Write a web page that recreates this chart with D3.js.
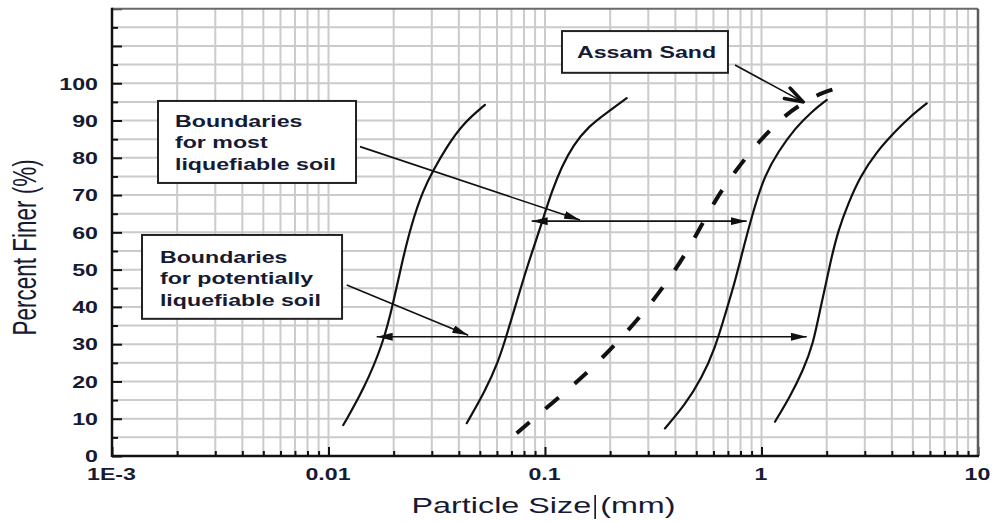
<!DOCTYPE html>
<html>
<head>
<meta charset="utf-8">
<script src="https://cdn.jsdelivr.net/npm/d3@7"></script>
<style>
  html, body { margin: 0; padding: 0; background: #fff; }
  svg { display: block; }
</style>
</head>
<body>
<svg id="chart" width="995" height="522"></svg>
<script>
// ---------- data ----------
const sizeDecades = [0.001, 0.01, 0.1, 1, 10];
const sizeDecadeLabels = ["1E-3", "0.01", "0.1", "1", "10"];
const finerTickValues = [0, 5, 10, 15, 20, 25, 30, 35, 40, 45, 50, 55, 60, 65, 70, 75, 80, 85, 90, 95, 100, 105, 110, 115, 120];
const finerLabelValues = [0, 10, 20, 30, 40, 50, 60, 70, 80, 90, 100];

// boundaries for potentially liquefiable soil (fine side)
const potentialFineSize  = [0.0117, 0.0145, 0.0179, 0.0199, 0.0218, 0.0242, 0.0274, 0.0305, 0.0352, 0.0420, 0.0528];
const potentialFineFiner = [8.3, 17.7, 30.2, 41.0, 51.7, 62.4, 71.4, 76.7, 83.0, 89.3, 94.2];

// boundaries for most liquefiable soil (fine side)
const mostFineSize  = [0.0435, 0.0528, 0.0609, 0.0666, 0.0740, 0.0823, 0.0916, 0.0982, 0.1074, 0.1194, 0.1351, 0.1585, 0.1961, 0.2384];
const mostFineFiner = [8.8, 17.3, 25.3, 32.5, 41.4, 50.4, 58.4, 63.8, 70.9, 77.6, 83.4, 88.4, 92.4, 96.0];

// boundaries for most liquefiable soil (coarse side)
const mostCoarseSize  = [0.358, 0.443, 0.529, 0.610, 0.678, 0.755, 0.839, 0.933, 1.038, 1.196, 1.428, 1.706, 2.001];
const mostCoarseFiner = [7.4, 13.7, 20.8, 28.9, 37.8, 46.8, 57.5, 67.3, 75.4, 81.7, 87.9, 92.4, 95.5];

// boundaries for potentially liquefiable soil (coarse side)
const potentialCoarseSize  = [1.154, 1.354, 1.560, 1.735, 1.863, 2.001, 2.110, 2.263, 2.517, 2.851, 3.405, 4.212, 4.852, 5.794];
const potentialCoarseFiner = [9.2, 15.9, 23.1, 30.2, 39.2, 47.2, 53.5, 60.6, 67.8, 74.9, 81.7, 87.5, 91.0, 94.6];

// Assam sand gradation
const assamSize  = [0.0740, 0.1074, 0.1531, 0.2106, 0.2797, 0.3583, 0.4433, 0.5293, 0.6316, 0.7545, 0.9665, 1.284, 1.555, 1.923, 2.378];
const assamFiner = [6.1, 14.1, 21.7, 29.8, 37.8, 45.9, 53.9, 62.0, 70.0, 76.3, 84.3, 91.5, 94.7, 97.7, 99.0];

// note texts
const mostNoteLines = ["Boundaries", "for most", "liquefiable soil"];
const potentialNoteLines = ["Boundaries", "for potentially", "liquefiable soil"];
const assamNoteLines = ["Assam Sand"];

// range arrows, in (mm, %)
const mostRangeSize = [0.0868, 0.854];
const mostRangeFiner = 63;
const potentialRangeSize = [0.01669, 1.618];
const potentialRangeFiner = 32;

// ---------- layout ----------
const plot = { left: 112, right: 978, top: 8.7, bottom: 456 };
const STRETCH = 1.45;   // horizontal widening applied to every text label
const FONT = "'Liberation Sans', Arial, Helvetica, sans-serif";
const TEXT_COLOR = "#161b33";

const svg = d3.select("#chart");

const x = d3.scaleLog().domain([sizeDecades[0], sizeDecades[sizeDecades.length - 1]]).range([plot.left, plot.right]);
const y = d3.scaleLinear().domain([0, 120]).range([plot.bottom, plot.top]);

const isDecade = d => Math.abs(Math.log10(d) - Math.round(Math.log10(d))) < 1e-9;
const decadeLabel = d => {
  const i = sizeDecades.findIndex(v => Math.abs(Math.log10(v) - Math.log10(d)) < 1e-9);
  return i >= 0 ? sizeDecadeLabels[i] : "";
};

// ---------- grid ----------
const grid = svg.append("g").attr("class", "grid")
  .attr("stroke", "#cbcbcb").attr("stroke-width", 2);

grid.selectAll("line.v").data(x.ticks().filter(d => d > sizeDecades[0] && d < sizeDecades[sizeDecades.length - 1]))
  .join("line").attr("class", "v")
  .attr("x1", d => x(d)).attr("x2", d => x(d))
  .attr("y1", plot.top).attr("y2", plot.bottom);

grid.selectAll("line.h").data(finerTickValues.filter(d => d > 0 && d < 120))
  .join("line").attr("class", "h")
  .attr("x1", plot.left).attr("x2", plot.right)
  .attr("y1", d => y(d)).attr("y2", d => y(d));

// ---------- curves ----------
const line = d3.line()
  .x(d => x(d[0])).y(d => y(d[1]))
  .curve(d3.curveBasis);

const zip = (a, b) => a.map((v, i) => [v, b[i]]);

const boundaries = [
  zip(potentialFineSize, potentialFineFiner),
  zip(mostFineSize, mostFineFiner),
  zip(mostCoarseSize, mostCoarseFiner),
  zip(potentialCoarseSize, potentialCoarseFiner)
];

svg.append("g").attr("class", "boundaries")
  .selectAll("path").data(boundaries).join("path")
  .attr("d", line)
  .attr("fill", "none").attr("stroke", "#111").attr("stroke-width", 2.2)
  .attr("stroke-linecap", "round");

svg.append("path").attr("class", "assam")
  .datum(zip(assamSize, assamFiner))
  .attr("d", line)
  .attr("fill", "none").attr("stroke", "#111").attr("stroke-width", 4)
  .attr("stroke-dasharray", "17,21");

// ---------- arrows ----------
const defs = svg.append("defs");
defs.append("marker").attr("id", "head")
  .attr("markerUnits", "userSpaceOnUse")
  .attr("viewBox", "0 0 16 8").attr("markerWidth", 16).attr("markerHeight", 8)
  .attr("refX", 16).attr("refY", 4).attr("orient", "auto-start-reverse")
  .append("path").attr("d", "M0,0 L16,4 L0,8 Z").attr("fill", "#111");

defs.append("marker").attr("id", "chevron")
  .attr("markerUnits", "userSpaceOnUse")
  .attr("viewBox", "0 0 22 16").attr("markerWidth", 22).attr("markerHeight", 16)
  .attr("refX", 20).attr("refY", 8).attr("orient", "auto")
  .append("path").attr("d", "M2,2 L20,8 L2,14").attr("fill", "none")
  .attr("stroke", "#111").attr("stroke-width", 3.5).attr("stroke-linecap", "round");

const arrows = svg.append("g").attr("class", "arrows")
  .attr("stroke", "#111").attr("stroke-width", 1.6).attr("fill", "none");

// double-headed range arrows
arrows.append("line")
  .attr("x1", x(mostRangeSize[0])).attr("x2", x(mostRangeSize[1]))
  .attr("y1", y(mostRangeFiner)).attr("y2", y(mostRangeFiner))
  .attr("marker-start", "url(#head)").attr("marker-end", "url(#head)");
arrows.append("line")
  .attr("x1", x(potentialRangeSize[0])).attr("x2", x(potentialRangeSize[1]))
  .attr("y1", y(potentialRangeFiner)).attr("y2", y(potentialRangeFiner))
  .attr("marker-start", "url(#head)").attr("marker-end", "url(#head)");

// leader arrows from the notes
const leaders = [
  { from: [0.01398, 83.0], to: [0.1451, mostRangeFiner + 0.3], head: "head" },
  { from: [0.01214, 45.9], to: [0.04422, potentialRangeFiner + 0.4], head: "head" },
  { from: [0.7545, 104.9], to: [1.555, 95.0], head: "chevron" }
];
arrows.selectAll("line.leader").data(leaders).join("line").attr("class", "leader")
  .attr("x1", d => x(d.from[0])).attr("y1", d => y(d.from[1]))
  .attr("x2", d => x(d.to[0])).attr("y2", d => y(d.to[1]))
  .attr("marker-end", d => `url(#${d.head})`);

// ---------- note boxes ----------
const notes = [
  { lines: mostNoteLines,      box: [0.001631, 0.01340, 95.25, 73.25], text: [0.001954, 88.3] },
  { lines: potentialNoteLines, box: [0.001376, 0.01155, 59.3, 36.8],   text: [0.001665, 51.8] },
  { lines: assamNoteLines,     box: [0.1198, 0.700, 114.0, 102.8],     text: [0.1405, 106.8] }
];

const noteG = svg.append("g").attr("class", "notes");
notes.forEach(n => {
  const g = noteG.append("g");
  g.append("rect")
    .attr("x", x(n.box[0])).attr("y", y(n.box[2]))
    .attr("width", x(n.box[1]) - x(n.box[0]))
    .attr("height", y(n.box[3]) - y(n.box[2]))
    .attr("fill", "#fff").attr("stroke", "#222").attr("stroke-width", 2);
  n.lines.forEach((t, i) => {
    g.append("text")
      .attr("transform", `translate(${x(n.text[0])},${y(n.text[1]) + i * 21.5}) scale(${STRETCH},1)`)
      .attr("font-family", FONT).attr("font-weight", "bold").attr("font-size", 16)
      .attr("fill", TEXT_COLOR)
      .text(t);
  });
});

// ---------- axes ----------
const yAxis = d3.axisLeft(y)
  .tickValues(finerTickValues)
  .tickSize(-10).tickSizeOuter(0)
  .tickFormat(d => finerLabelValues.includes(d) ? d : "");

const yG = svg.append("g").attr("transform", `translate(${plot.left},0)`).call(yAxis);
yG.selectAll(".tick line")
  .attr("x2", d => d % 10 === 0 ? 10 : 6)
  .attr("stroke", "#111").attr("stroke-width", 2);
yG.selectAll(".tick text")
  .attr("x", 0).attr("dy", "0.36em")
  .attr("transform", `translate(-14,0) scale(${STRETCH},1)`)
  .attr("font-family", FONT).attr("font-weight", "bold").attr("font-size", 16)
  .attr("fill", TEXT_COLOR);
yG.select(".domain").remove();

const xAxis = d3.axisBottom(x)
  .tickValues(x.ticks())
  .tickSize(-5).tickSizeOuter(0)
  .tickFormat(d => isDecade(d) ? decadeLabel(d) : "");

const xG = svg.append("g").attr("transform", `translate(0,${plot.bottom})`).call(xAxis);
xG.selectAll(".tick line")
  .attr("y2", d => isDecade(d) ? -9 : -5)
  .attr("stroke", "#111").attr("stroke-width", 2);
xG.selectAll(".tick text")
  .attr("y", 0).attr("dy", 0)
  .attr("transform", `translate(-1,24) scale(${STRETCH},1)`)
  .attr("font-family", FONT).attr("font-weight", "bold").attr("font-size", 16)
  .attr("fill", TEXT_COLOR);
xG.select(".domain").remove();

// ---------- frame ----------
svg.append("line").attr("x1", plot.left).attr("x2", plot.right)
  .attr("y1", plot.top).attr("y2", plot.top)
  .attr("stroke", "#6a6a6a").attr("stroke-width", 2);
svg.append("line").attr("x1", plot.right).attr("x2", plot.right)
  .attr("y1", plot.top).attr("y2", plot.bottom)
  .attr("stroke", "#5c5c5c").attr("stroke-width", 2.5);
svg.append("line").attr("x1", plot.left).attr("x2", plot.right + 1)
  .attr("y1", plot.bottom).attr("y2", plot.bottom)
  .attr("stroke", "#111").attr("stroke-width", 2.5);
svg.append("line").attr("x1", plot.left).attr("x2", plot.left)
  .attr("y1", plot.top - 1).attr("y2", plot.bottom + 1)
  .attr("stroke", "#111").attr("stroke-width", 2.5);

// ---------- axis titles ----------
svg.append("text")
  .attr("transform", `translate(36,247.5) scale(${STRETCH},1) rotate(-90)`)
  .attr("text-anchor", "middle")
  .attr("font-family", FONT).attr("font-size", 22.5)
  .attr("fill", TEXT_COLOR)
  .text("Percent Finer (%)");

const xTitle = svg.append("g").attr("class", "x-title");
const part1 = xTitle.append("text")
  .attr("transform", `translate(411.5,513) scale(${STRETCH},1)`)
  .attr("font-family", FONT).attr("font-size", 22.3)
  .attr("fill", TEXT_COLOR)
  .text("Particle Size");
const w1 = part1.node().getComputedTextLength() * STRETCH;
const caretX = 411.5 + w1 + 4;
xTitle.append("line")
  .attr("x1", caretX).attr("x2", caretX)
  .attr("y1", 495).attr("y2", 519)
  .attr("stroke", "#111").attr("stroke-width", 1.6);
xTitle.append("text")
  .attr("transform", `translate(${caretX + 5},513) scale(${STRETCH},1)`)
  .attr("font-family", FONT).attr("font-size", 22.3)
  .attr("fill", TEXT_COLOR)
  .text("(mm)");
</script>
</body>
</html>
